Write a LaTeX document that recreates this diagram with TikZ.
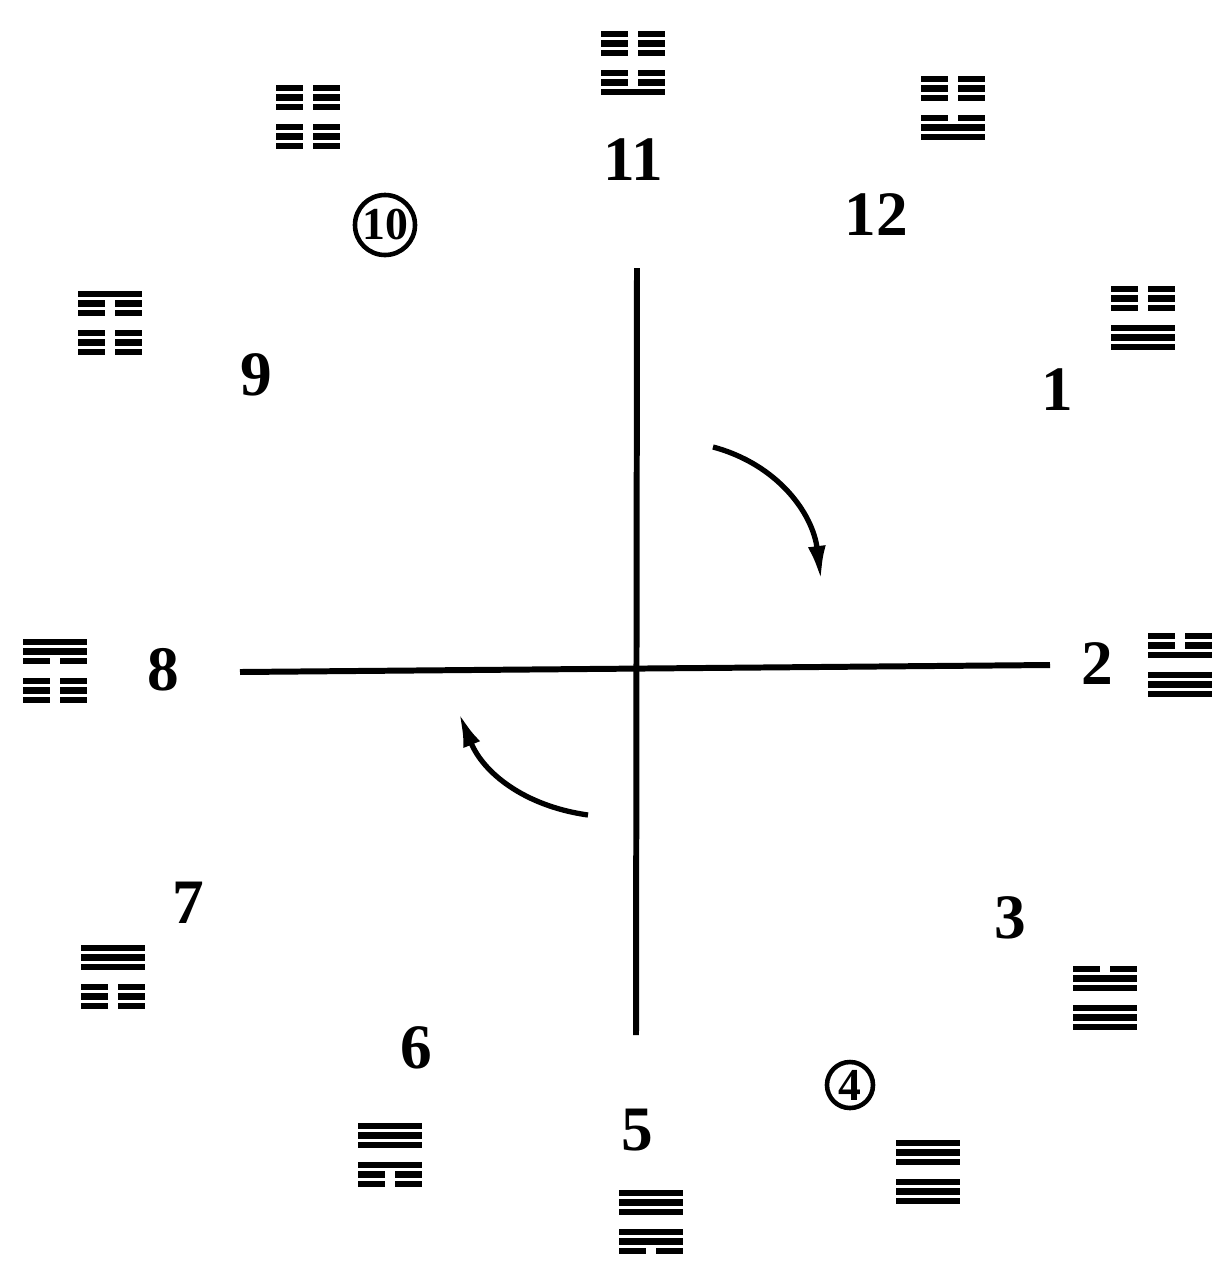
\documentclass[tikz,border=0pt]{standalone}
\usepackage{fontspec}
\setmainfont{Liberation Serif}
\usetikzlibrary{arrows.meta}
\tikzset{
    month/.style={font=\fontsize{18}{21}\selectfont\bfseries, inner sep=0pt},
    cmonth/.style={circle, draw, line width=1.3pt, inner sep=0.5pt,
                   minimum size=4.6mm, font=\fontsize{13}{15}\selectfont\bfseries},
    axis/.style={line width=1.7pt},
    turn/.style={-{Latex[length=3.4mm, width=1.8mm]}, line width=1.5pt},
    yao/.style={line width=1.8pt},
    pics/gua/.style={code={
        \foreach \b [count=\i] in {#1} {
            \pgfmathsetmacro{\yy}{\i<4 ? -38.5+9.5*\i : -28+9.5*\i}
            \ifnum\b=1
                \draw[yao] (-32,\yy) -- (32,\yy);
            \else
                \draw[yao] (-32,\yy) -- (-5,\yy) (5,\yy) -- (32,\yy);
            \fi
        }
    }},
}

\begin{document}
\begin{tikzpicture}[x=0.01cm, y=-0.01cm]
    \useasboundingbox (0,0) rectangle (1216,1263);
    % Cross
    \coordinate (top) at (637,268);
    \coordinate (bottom) at (636,1035);
    \coordinate (left) at (240,672);
    \coordinate (right) at (1050,665);
    \draw[axis] (top) -- (bottom);
    \draw[axis] (left) -- (right);
    % Month numbers
    \node[month] (m11) at (633,160) {11};
    \node[month] (m12) at (876,215) {12};
    \node[month] (m1) at (1057,390) {1};
    \node[month] (m2) at (1097,664) {2};
    \node[month] (m3) at (1010,918) {3};
    \node[cmonth] (m4) at (850,1085) {4};
    \node[month] (m5) at (637,1130) {5};
    \node[month] (m6) at (416,1048) {6};
    \node[month] (m7) at (188,903) {7};
    \node[month] (m8) at (163,670) {8};
    \node[month] (m9) at (256,375) {9};
    \node[cmonth] (m10) at (385,225) {10};
    % Hexagrams, lines listed top to bottom
    \pic at (633,63)   {gua={0,0,0,0,0,1}};
    \pic at (953,108)  {gua={0,0,0,0,1,1}};
    \pic at (1143,318) {gua={0,0,0,1,1,1}};
    \pic at (1180,665) {gua={0,0,1,1,1,1}};
    \pic at (1105,998) {gua={0,1,1,1,1,1}};
    \pic at (928,1172) {gua={1,1,1,1,1,1}};
    \pic at (651,1222) {gua={1,1,1,1,1,0}};
    \pic at (390,1155) {gua={1,1,1,1,0,0}};
    \pic at (113,977)  {gua={1,1,1,0,0,0}};
    \pic at (55,671)   {gua={1,1,0,0,0,0}};
    \pic at (110,323)  {gua={1,0,0,0,0,0}};
    \pic at (308,117)  {gua={0,0,0,0,0,0}};
    % Turning arrows
    \coordinate (ra) at (713,447);
    \coordinate (rb) at (821,580);
    \coordinate (la) at (588,815);
    \coordinate (lb) at (459,713);
    \draw[turn] (ra) to[out=-15, in=97] (rb);
    \draw[turn] (la) to[out=172, in=-68] (lb);
\end{tikzpicture}
\end{document}
